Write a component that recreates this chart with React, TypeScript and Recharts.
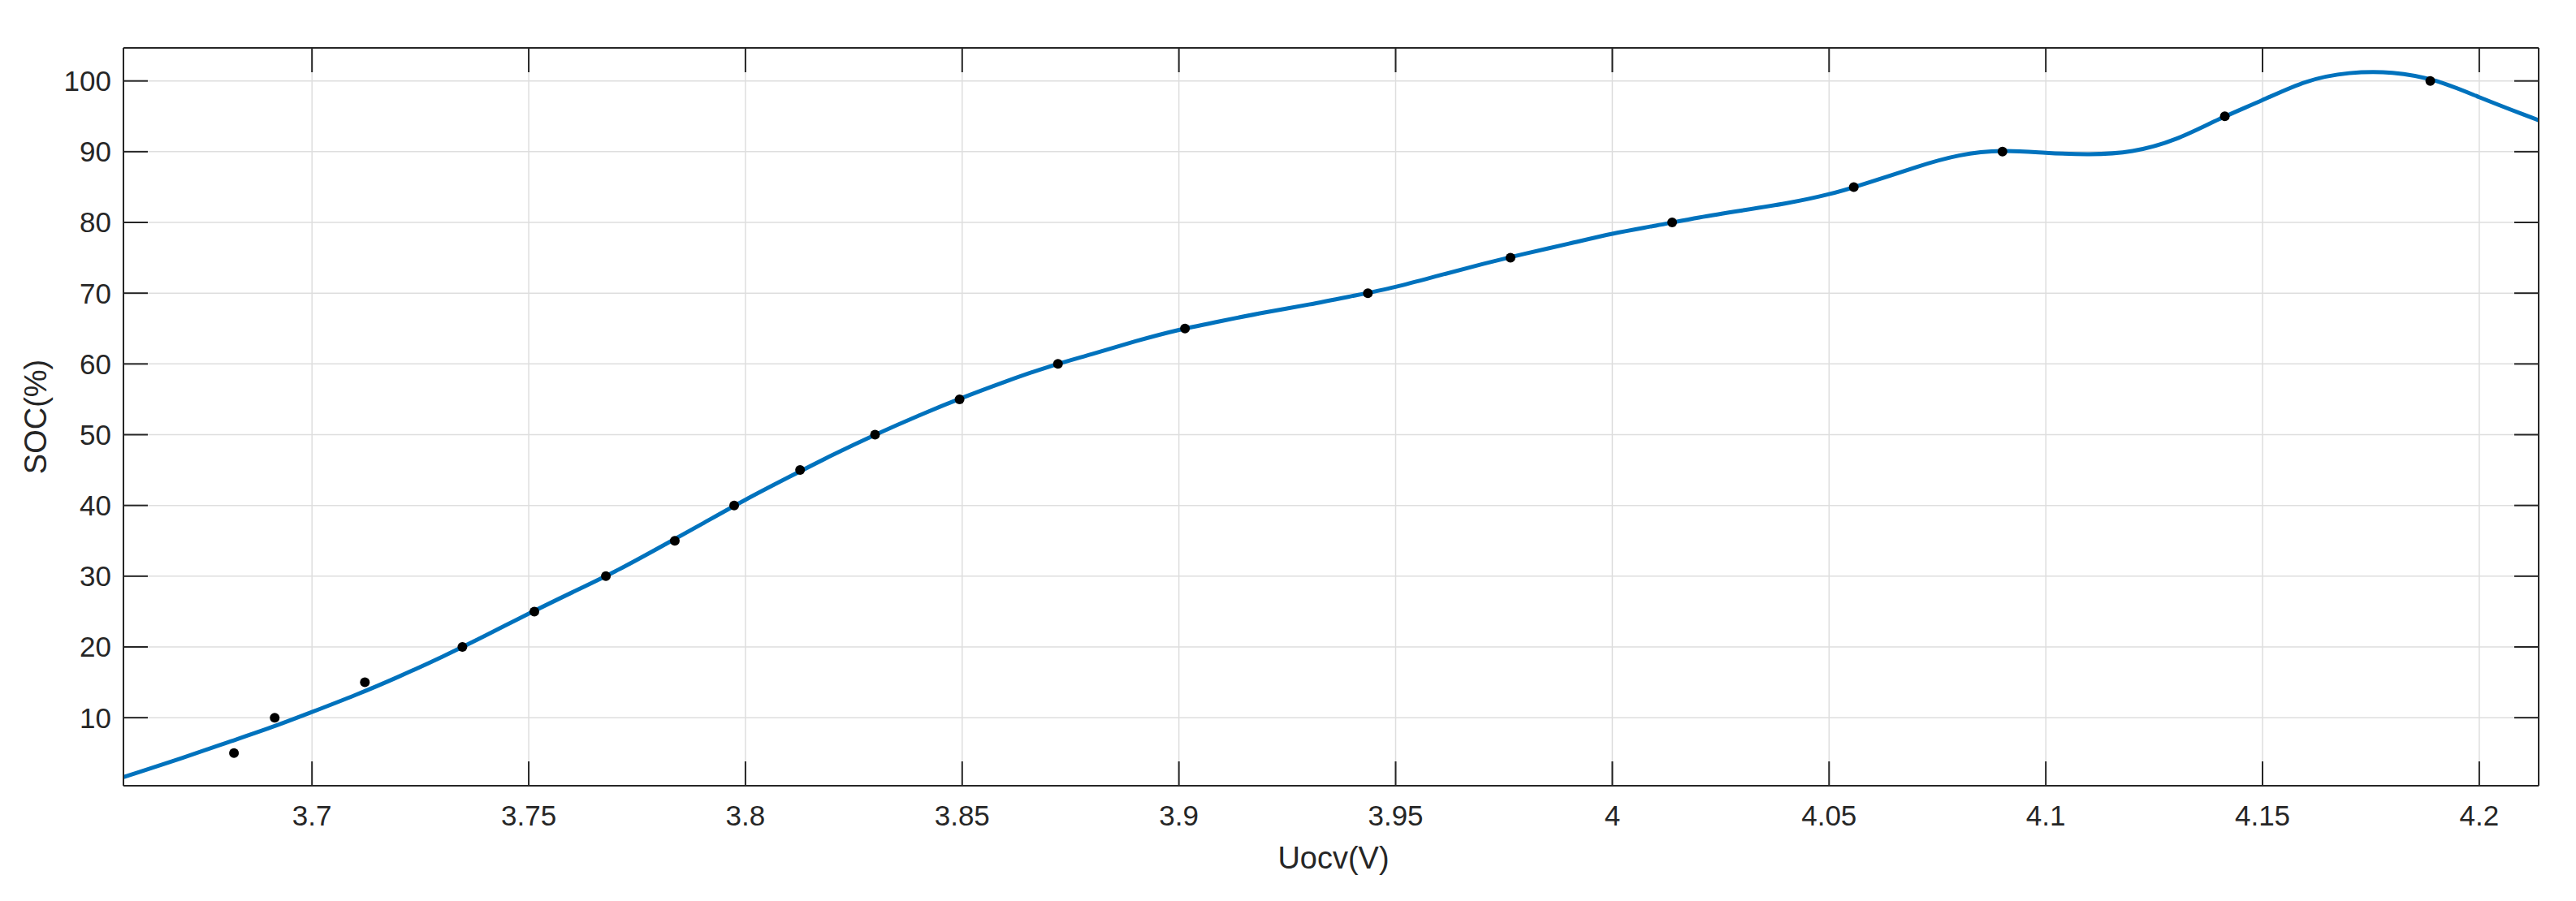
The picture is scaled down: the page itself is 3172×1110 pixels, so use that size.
import React from "react";
import {
    ComposedChart,
    Line,
    Scatter,
    XAxis,
    YAxis,
    CartesianGrid,
} from "recharts";

// fitted curve, every 0.01 V (Uocv in V, SOC in %)
const curveU = [
    3.6565, 3.66, 3.67, 3.68, 3.69, 3.7, 3.71, 3.72, 3.73, 3.74,
    3.75, 3.76, 3.77, 3.78, 3.79, 3.8, 3.81, 3.82, 3.83, 3.84,
    3.85, 3.86, 3.87, 3.88, 3.89, 3.9, 3.91, 3.92, 3.93, 3.94,
    3.95, 3.96, 3.97, 3.98, 3.99, 4.0, 4.01, 4.02, 4.03, 4.04,
    4.05, 4.06, 4.07, 4.08, 4.09, 4.1, 4.11, 4.12, 4.13, 4.14,
    4.15, 4.16, 4.17, 4.18, 4.19, 4.2, 4.21, 4.2137,
];
const curveSoc = [
    1.6, 2.3, 4.3, 6.4, 8.5, 10.8, 13.2, 15.8, 18.6, 21.6,
    24.7, 27.7, 30.7, 34.0, 37.4, 40.8, 44.0, 47.1, 50.0, 52.7,
    55.2, 57.5, 59.6, 61.4, 63.2, 64.8, 66.1, 67.3, 68.4, 69.6,
    70.9, 72.5, 74.1, 75.6, 77.0, 78.4, 79.55, 80.7, 81.7, 82.7,
    84.0, 85.8, 87.8, 89.45, 90.1, 89.85, 89.65, 90.1, 91.8, 94.6,
    97.3, 99.85, 101.1, 101.15, 100.0, 97.7, 95.3, 94.45,
];

// measured points
const pointU = [
    3.682, 3.6914, 3.7122, 3.7347, 3.7513, 3.7678, 3.7837, 3.7974, 3.8126, 3.8299,
    3.8494, 3.8721, 3.9014, 3.9436, 3.9765, 4.0138, 4.0557, 4.09, 4.1413, 4.1887,
];
const pointSoc = [5, 10, 15, 20, 25, 30, 35, 40, 45, 50, 55, 60, 65, 70, 75, 80, 85, 90, 95, 100];

const xTicks = [3.7, 3.75, 3.8, 3.85, 3.9, 3.95, 4.0, 4.05, 4.1, 4.15, 4.2];
const yTicks = [10, 20, 30, 40, 50, 60, 70, 80, 90, 100];
const xDomain = [3.6565, 4.2137];
const yDomain = [0.38, 104.67];

const curve = curveU.map((u, i) => ({ u, soc: curveSoc[i] }));
const points = pointU.map((u, i) => ({ u, soc: pointSoc[i] }));

const INK = "#262626";
const FONT = "'Liberation Sans', Arial, Helvetica, sans-serif";
const TICK_LEN = 30;
const X_LABEL_GAP = 24;
const Y_LABEL_GAP = 15;

const fmt = (v: number) => String(Number(v.toFixed(2)));

const BottomTick = ({ x, y, payload }: any) => (
    <g>
        <line x1={x} x2={x} y1={y - X_LABEL_GAP} y2={y - X_LABEL_GAP - TICK_LEN} stroke={INK} strokeWidth={2} />
        <text x={x} y={y} dy="0.71em" textAnchor="middle" fill={INK} fontSize={35} fontFamily={FONT}>
            {fmt(payload.value)}
        </text>
    </g>
);

const LeftTick = ({ x, y, payload }: any) => (
    <g>
        <line x1={x + Y_LABEL_GAP} x2={x + Y_LABEL_GAP + TICK_LEN} y1={y} y2={y} stroke={INK} strokeWidth={2} />
        <text x={x} y={y} dy="0.355em" textAnchor="end" fill={INK} fontSize={35} fontFamily={FONT}>
            {payload.value}
        </text>
    </g>
);

const TopTick = ({ x, y }: any) => (
    <line x1={x} x2={x} y1={y} y2={y + TICK_LEN} stroke={INK} strokeWidth={2} />
);

const RightTick = ({ x, y }: any) => (
    <line x1={x} x2={x - TICK_LEN} y1={y} y2={y} stroke={INK} strokeWidth={2} />
);

const XTitle = ({ viewBox }: any) => (
    <text
        x={viewBox.x + viewBox.width / 2 + 3}
        y={viewBox.y + 102}
        textAnchor="middle"
        fill={INK}
        fontSize={38}
        fontFamily={FONT}
    >
        Uocv(V)
    </text>
);

const YTitle = ({ viewBox }: any) => {
    const cx = viewBox.x + 57;
    const cy = viewBox.y + viewBox.height / 2;
    return (
        <text
            x={cx}
            y={cy}
            transform={`rotate(-90 ${cx} ${cy})`}
            textAnchor="middle"
            fill={INK}
            fontSize={38}
            fontFamily={FONT}
        >
            SOC(%)
        </text>
    );
};

export default function App() {
    return (
        <div style={{ width: 3172, height: 1110, background: "#fff" }}>
            <style>{`body{margin:0;}`}</style>
            <ComposedChart width={3172} height={1110} margin={{ top: 0, right: 0, bottom: 0, left: 0 }}>
                <CartesianGrid stroke="#dedede" strokeWidth={1.5} />
                <XAxis
                    dataKey="u"
                    type="number"
                    domain={xDomain}
                    allowDataOverflow
                    ticks={xTicks}
                    height={142}
                    axisLine={{ stroke: INK, strokeWidth: 2 }}
                    tickLine={false}
                    tickSize={0}
                    tickMargin={X_LABEL_GAP}
                    tick={<BottomTick />}
                    interval={0}
                    label={<XTitle />}
                />
                <XAxis
                    xAxisId="top"
                    orientation="top"
                    dataKey="u"
                    type="number"
                    domain={xDomain}
                    allowDataOverflow
                    ticks={xTicks}
                    height={59}
                    axisLine={{ stroke: INK, strokeWidth: 2 }}
                    tickLine={false}
                    tickSize={0}
                    tickMargin={0}
                    tick={<TopTick />}
                    interval={0}
                />
                <YAxis
                    dataKey="soc"
                    type="number"
                    domain={yDomain}
                    allowDataOverflow
                    ticks={yTicks}
                    width={152}
                    axisLine={{ stroke: INK, strokeWidth: 2 }}
                    tickLine={false}
                    tickSize={0}
                    tickMargin={Y_LABEL_GAP}
                    tick={<LeftTick />}
                    interval={0}
                    label={<YTitle />}
                />
                <YAxis
                    yAxisId="right"
                    orientation="right"
                    dataKey="soc"
                    type="number"
                    domain={yDomain}
                    allowDataOverflow
                    ticks={yTicks}
                    width={46}
                    axisLine={{ stroke: INK, strokeWidth: 2 }}
                    tickLine={false}
                    tickSize={0}
                    tickMargin={0}
                    tick={<RightTick />}
                    interval={0}
                />
                <Scatter
                    data={points}
                    dataKey="soc"
                    fill="#000"
                    isAnimationActive={false}
                    shape={(p: any) => <circle cx={p.cx} cy={p.cy} r={6} fill="#000" />}
                />
                <Line
                    data={curve}
                    dataKey="soc"
                    type="natural"
                    stroke="#0072BD"
                    strokeWidth={5}
                    dot={false}
                    activeDot={false}
                    isAnimationActive={false}
                />
            </ComposedChart>
        </div>
    );
}
